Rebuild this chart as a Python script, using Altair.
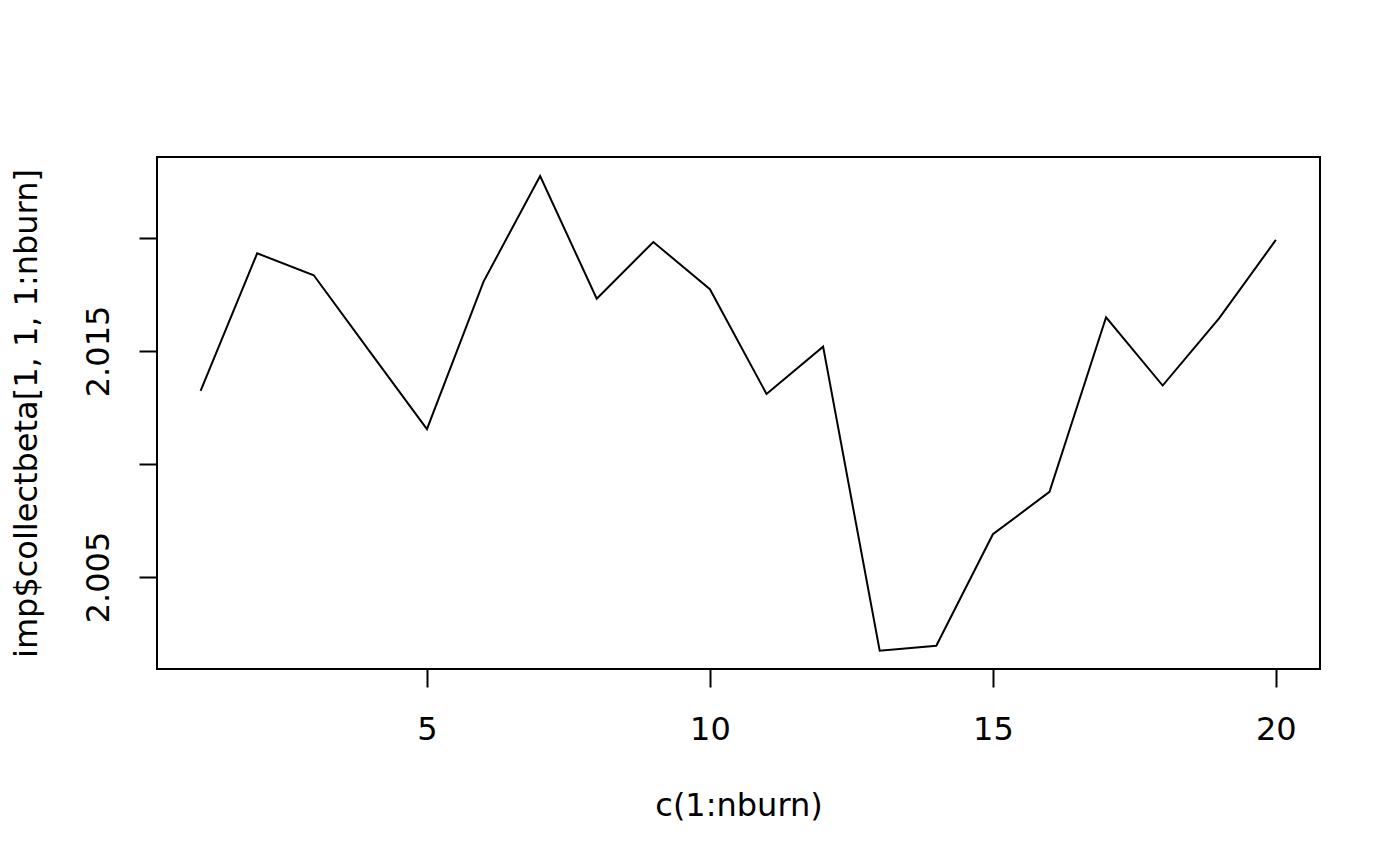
import altair as alt
import pandas as pd

iterations = list(range(1, 21))
beta = [2.01323, 2.01932, 2.01835, 2.01494, 2.01154, 2.01807, 2.02274, 2.01731,
        2.01982, 2.01773, 2.01310, 2.01519, 2.00174, 2.00196, 2.00689, 2.00877,
        2.01649, 2.01347, 2.01645, 2.01991]
x_ticks = [5, 10, 15, 20]
y_ticks = [2.005, 2.010, 2.015, 2.020]

df = pd.DataFrame({"x": iterations, "y": beta})

FONT = "DejaVu Sans"
FS = 32

chart = alt.Chart(df).mark_line(color="black", strokeWidth=2).encode(
    x=alt.X("x:Q",
            scale=alt.Scale(domain=[0.23, 20.78], nice=False, zero=False),
            axis=alt.Axis(values=x_ticks, title="c(1:nburn)", grid=False, domain=False,
                          tickSize=18, tickColor="black", tickWidth=2,
                          labelFont=FONT, labelFontSize=FS, labelColor="black",
                          labelBaseline="alphabetic", labelPadding=52, labelFlush=False,
                          labelOverlap=False,
                          titleFont=FONT, titleFontSize=FS, titleFontWeight="normal",
                          titleColor="black", titleBaseline="alphabetic", titleY=146)),
    y=alt.Y("y:Q",
            scale=alt.Scale(domain=[2.00093, 2.02358], nice=False, zero=False),
            axis=alt.Axis(values=y_ticks, title="imp$collectbeta[1, 1, 1:nburn]",
                          grid=False, domain=False,
                          tickSize=18, tickColor="black", tickWidth=2,
                          labelExpr="(round(datum.value*1000) % 10 == 5) ? format(datum.value, '.3f') : ''",
                          labelFont=FONT, labelFontSize=FS, labelColor="black",
                          labelAngle=270, labelAlign="center", labelBaseline="alphabetic",
                          labelPadding=31, labelFlush=False, labelOverlap=False,
                          titleFont=FONT, titleFontSize=FS, titleFontWeight="normal",
                          titleColor="black", titleAngle=270, titleBaseline="alphabetic",
                          titleAlign="center", titleX=-121, titleY=256)),
).properties(
    width=1163, height=512,
    background="white",
    autosize=alt.AutoSizeParams(type="none"),
    padding={"left": 149, "top": 149, "right": 60, "bottom": 180},
).configure_view(stroke="black", strokeWidth=2)

chart.save("out.html", embed_options={"renderer": "svg", "actions": False})
